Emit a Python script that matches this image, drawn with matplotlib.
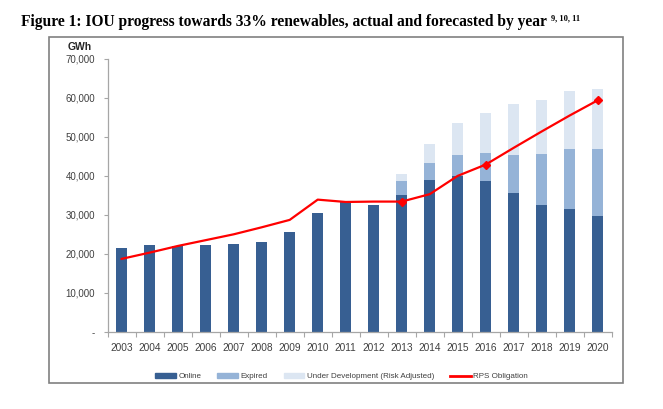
import matplotlib.pyplot as plt
from matplotlib.patches import Rectangle
from matplotlib.lines import Line2D
from matplotlib.ticker import FuncFormatter
import numpy as np

years = [str(y) for y in range(2003, 2021)]
online = [21500, 22300, 22100, 22300, 22550, 22900, 25550, 30400, 33500, 32500,
          35100, 39000, 40000, 38600, 35700, 32500, 31500, 29800]
expired = [0, 0, 0, 0, 0, 0, 0, 0, 0, 0,
           3500, 4400, 5300, 7300, 9700, 13200, 15400, 17200]
under_dev = [0, 0, 0, 0, 0, 0, 0, 0, 0, 0,
             1850, 4700, 8200, 10300, 13000, 13700, 15000, 15300]
rps = [18700, 20300, 22000, 23500, 25000, 26800, 28700, 33900, 33300, 33400,
       33400, 35300, 40000, 42900, 47200, 51400, 55500, 59400]
marker_years = ['2013', '2016', '2020']

c_online = '#375F92'
c_expired = '#95B3D7'
c_ud = '#DCE6F2'
c_line = '#FF0000'
tick_col = '#404040'
font = 'Liberation Sans'

fig = plt.figure(figsize=(6.63, 4.09), dpi=100)

# outer chart frame
fig.patches.append(Rectangle((48.7 / 663, 1 - 383 / 409), (623.3 - 48.7) / 663, (383 - 37.3) / 409,
                             transform=fig.transFigure, fill=False, edgecolor='#808080', lw=1.2))

title = fig.text(21 / 663, 1 - 22 / 409,
                 'Figure 1: IOU progress towards 33% renewables, actual and forecasted by year',
                 family='Liberation Serif', weight='bold', fontsize=11.2, va='center', ha='left')
r = fig.canvas.get_renderer()
bb = title.get_window_extent(r)
fig.text((bb.x1 + 4) / 663, 1 - 18 / 409, '9, 10, 11', family='Liberation Serif', weight='bold',
         fontsize=6, va='center', ha='left')

ax = fig.add_axes([107.7 / 663, 1 - 331.7 / 409, (611.7 - 107.7) / 663, (331.7 - 59) / 409])
x = np.arange(len(years))
w = 0.4
online_a = np.array(online)
expired_a = np.array(expired)
ud_a = np.array(under_dev)
ax.bar(x, online_a, w, color=c_online, label='Online')
ax.bar(x, expired_a, w, bottom=online_a, color=c_expired, label='Expired')
ax.bar(x, ud_a, w, bottom=online_a + expired_a, color=c_ud, label='Under Development (Risk Adjusted)')
ax.plot(x, rps, color=c_line, lw=1.6, label='RPS Obligation', zorder=3)
mi = [years.index(y) for y in marker_years]
ax.plot(mi, [rps[i] for i in mi], 'D', color=c_line, ms=4.5, zorder=4)

ax.set_xlim(-0.5, len(years) - 0.5)
ax.set_ylim(0, 70000)
ax.set_yticks(range(0, 70001, 10000))
ax.yaxis.set_major_formatter(FuncFormatter(lambda v, p: '-' if v == 0 else f'{int(v):,}'))
ax.set_xticks(x)
ax.set_xticklabels(years)
ax.set_xticks(np.arange(-0.5, len(years)), minor=True)
ax.tick_params(axis='x', which='major', length=0, pad=8, labelsize=7.3, labelcolor=tick_col)
ax.tick_params(axis='x', which='minor', length=3.5, color='#A6A6A6', width=0.8)
ax.tick_params(axis='y', length=3, color='#A6A6A6', width=0.8, pad=6, labelsize=7, labelcolor=tick_col)
for lab in ax.get_xticklabels() + ax.get_yticklabels():
    lab.set_family(font)
for s in ['top', 'right']:
    ax.spines[s].set_visible(False)
for s in ['left', 'bottom']:
    ax.spines[s].set_color('#A6A6A6')
    ax.spines[s].set_linewidth(0.9)

fig.text(80 / 663, 1 - 47 / 409, 'GWh', family=font, weight='bold', fontsize=7.5,
         ha='center', va='center', color='#262626')

handles = [Rectangle((0, 0), 1, 1, color=c_online), Rectangle((0, 0), 1, 1, color=c_expired),
           Rectangle((0, 0), 1, 1, color=c_ud), Line2D([0], [0], color=c_line, lw=2)]
labels = ['Online', 'Expired', 'Under Development (Risk Adjusted)', 'RPS Obligation']
leg = fig.legend(handles, labels, loc='center', bbox_to_anchor=(341.5 / 663, 1 - 376.6 / 409), ncol=4,
                 frameon=False, prop={'family': font, 'size': 5.8}, handlelength=2.6, handleheight=0.5,
                 handletextpad=0.25, columnspacing=2.0)
for t in leg.get_texts():
    t.set_color(tick_col)

fig.savefig('out.png', dpi=100)
